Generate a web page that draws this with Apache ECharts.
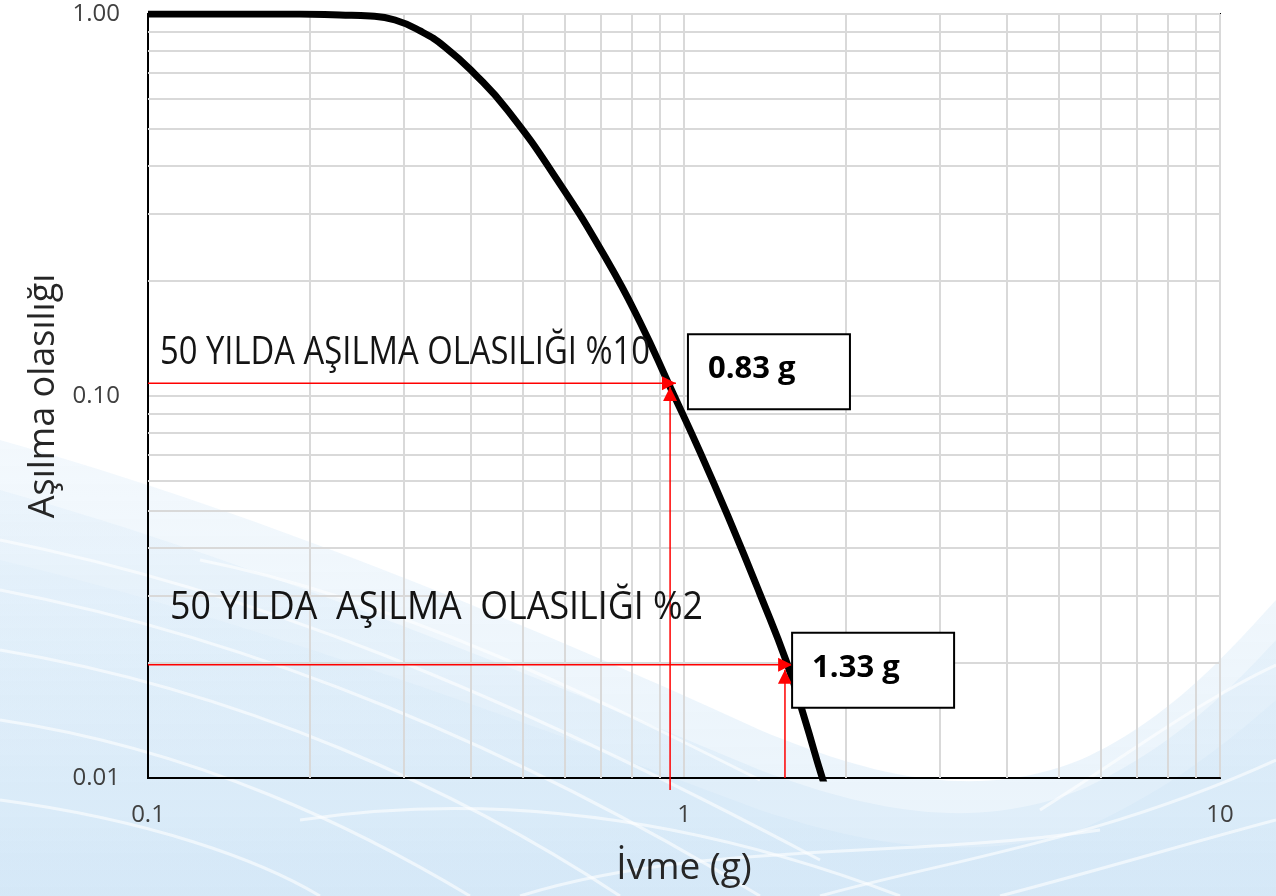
<!DOCTYPE html>
<html><head><meta charset="utf-8">
<script src="https://cdn.jsdelivr.net/npm/echarts@6/dist/echarts.min.js"></script>
<style>html,body{margin:0;padding:0;background:#fff}#c{width:1276px;height:896px}</style>
</head><body><div id="c"></div>
<script>
// ---- data ----
const xTickValues = [0.1, 1, 10];
const yTickValues = [0.01, 0.1, 1];
const xMinorGrid = [0.2,0.3,0.4,0.5,0.6,0.7,0.8,0.9,2,3,4,5,6,7,8,9];
const yMinorGrid = [0.02,0.03,0.04,0.05,0.06,0.07,0.08,0.09,0.2,0.3,0.4,0.5,0.6,0.7,0.8,0.9];
const hazardAccel = [0.1,0.192,0.228,0.26,0.289,0.322,0.358,0.407,0.468,0.580,0.718,0.828,0.942,1.071,1.218,1.386,1.556,1.682,1.809,1.873];
const hazardProb  = [1.0,1.0,0.994,0.988,0.9645,0.903,0.820,0.6965,0.561,0.368,0.227,0.156,0.1056,0.0714,0.0471,0.0303,0.0200,0.01418,0.01006,0.00876];
const refProbLine   = [0.108, 0.0198];   // horizontal red lines (probability)
const refAccelLine  = [0.942, 1.543];    // vertical red lines (acceleration)
const refHArrowX    = [0.966, 1.591];    // tip of horizontal arrows
const refVArrowP    = [0.1056, 0.0192];  // tip of vertical arrows
const refVLineStart = [0.0093, 0.01];
const refTitles = ['50 YILDA AŞILMA OLASILIĞI %10', '50 YILDA  AŞILMA  OLASILIĞI %2'];
const refValues = ['0.83 g', '1.33 g'];

const FONT = '"Open Sans", "Noto Sans", sans-serif';
const chart = echarts.init(document.getElementById('c'), null, {renderer:'canvas'});

const RIGHT = 'path://M0,0L10,5L0,10Z';
const UP = 'path://M5,0L10,10L0,10Z';

const series = [];
series.push({
  type:'line', data:[], z:1, silent:true, animation:false,
  markLine:{
    silent:true, symbol:'none', animation:false, label:{show:false},
    lineStyle:{color:'#d9d9d9', width:2, type:'solid'},
    data: xMinorGrid.map(v=>({xAxis:v})).concat(yMinorGrid.map(v=>({yAxis:v})))
  }
});
series.push({
  type:'line', z:5, animation:false, silent:true, smooth:0.5, clip:true,
  showSymbol:false, lineStyle:{color:'#000', width:7, cap:'butt'},
  data: hazardAccel.map((x,i)=>[x, hazardProb[i]])
});
for (let i=0;i<2;i++){
  series.push({
    type:'line', z:6, animation:false, silent:true, clip:false,
    lineStyle:{color:'#ff0000', width:1.5}, itemStyle:{color:'#ff0000'},
    showSymbol:true, symbolKeepAspect:true,
    data:[
      {value:[xTickValues[0], refProbLine[i]], symbol:'none'},
      {value:[refHArrowX[i], refProbLine[i]], symbol:RIGHT, symbolSize:[14,14], symbolOffset:[-7,0]}
    ]
  });
  series.push({
    type:'line', z:6, animation:false, silent:true, clip:false,
    lineStyle:{color:'#ff0000', width:1.5}, itemStyle:{color:'#ff0000'},
    showSymbol:true, symbolKeepAspect:true,
    data:[
      {value:[refAccelLine[i], refVLineStart[i]], symbol:'none'},
      {value:[refAccelLine[i], refVArrowP[i]], symbol:UP, symbolSize:[14,14], symbolOffset:[0,7]}
    ]
  });
}

const option = {
  backgroundColor:'transparent',
  animation:false,
  grid:{left:148, right:56, top:14, bottom:118, show:true, borderColor:'#000', borderWidth:2, backgroundColor:'transparent', containLabel:false},
  xAxis:{
    type:'log', logBase:10, min:xTickValues[0], max:xTickValues[2],
    name:'İvme (g)', nameLocation:'middle', nameGap:72,
    nameTextStyle:{fontFamily:FONT, fontSize:37, color:'#262626'},
    axisLine:{show:true, onZero:false, lineStyle:{color:'#000', width:2}},
    axisTick:{show:false},
    axisLabel:{fontFamily:FONT, fontSize:24, color:'#404040', margin:25, showMinLabel:true, showMaxLabel:true,
      formatter:v=> v<1 ? v.toFixed(1) : v.toFixed(0)},
    splitLine:{show:true, lineStyle:{color:'#d9d9d9', width:2}}
  },
  yAxis:{
    type:'log', logBase:10, min:yTickValues[0], max:yTickValues[2],
    name:'Aşılma olasılığı', nameLocation:'middle', nameGap:84,
    nameTextStyle:{fontFamily:FONT, fontSize:36, color:'#262626'},
    axisLine:{show:true, onZero:false, lineStyle:{color:'#000', width:2}},
    axisTick:{show:false},
    axisLabel:{fontFamily:FONT, fontSize:24, color:'#404040', margin:28, showMinLabel:true, showMaxLabel:true,
      formatter:v=> v.toFixed(2)},
    splitLine:{show:true, lineStyle:{color:'#d9d9d9', width:2}}
  },
  series
};
chart.setOption(option);

// ---- decorative background + annotations ----
const ctx = document.createElement('canvas').getContext('2d');
function fitScale(text, font, target){ ctx.font = font; return target / ctx.measureText(text).width; }
function bez(start, segs, n){
  const pts=[start.slice()]; let p0=start;
  segs.forEach(s=>{
    for(let k=1;k<=n;k++){
      const t=k/n, u=1-t;
      pts.push([
        u*u*u*p0[0]+3*u*u*t*s[0]+3*u*t*t*s[2]+t*t*t*s[4],
        u*u*u*p0[1]+3*u*u*t*s[1]+3*u*t*t*s[3]+t*t*t*s[5]
      ]);
    }
    p0=[s[4],s[5]];
  });
  return pts;
}

const graphics = [];
const bands = [
  [[0,440],[[250,510,520,620,760,730],[880,780,980,800,1080,760],[1170,720,1230,650,1276,600]]],
  [[0,490],[[250,560,520,670,760,770],[880,815,980,830,1080,790],[1170,750,1230,690,1276,640]]],
  [[0,560],[[250,620,520,720,760,810],[880,850,980,860,1080,830],[1170,790,1230,740,1276,700]]]
];
bands.forEach((b,i)=>{
  const pts = bez(b[0], b[1], 30).concat([[1276,896],[0,896]]);
  graphics.push({
    type:'polygon', id:'band'+i, z:-20, silent:true, shape:{points:pts},
    style:{fill:{type:'linear',x:0,y:0,x2:0,y2:1,colorStops:[{offset:0,color:'rgba(220,236,249,0.35)'},{offset:1,color:'rgba(205,228,246,0.45)'}]}}
  });
});
const streaks = [
  [0,540,250,590,500,690,820,860],
  [0,590,260,640,520,750,760,896],
  [0,650,240,690,460,790,620,896],
  [0,720,200,750,360,830,470,896],
  [0,800,150,820,260,860,320,896],
  [520,896,700,840,900,860,1100,830],
  [820,896,950,860,1100,840,1276,760],
  [1000,896,1100,870,1200,840,1276,820],
  [300,820,500,790,700,820,900,896],
  [1040,810,1120,760,1200,700,1276,665],
  [200,560,400,600,600,700,760,780]
];
streaks.forEach((s,i)=>graphics.push({
  type:'bezierCurve', id:'streak'+i, z:-19, silent:true,
  shape:{x1:s[0],y1:s[1],cpx1:s[2],cpy1:s[3],cpx2:s[4],cpy2:s[5],x2:s[6],y2:s[7]},
  style:{fill:null, stroke:'rgba(255,255,255,0.6)', lineWidth:3}
}));

const titleFont = '38px "Open Sans"';
const titlePos = [[160, 353], [170, 608]];
const titleWidth = [490, 533];
for (let i=0;i<2;i++){
  const s = fitScale(refTitles[i], titleFont, titleWidth[i]);
  graphics.push({
    type:'text', id:'title'+i, z:50, silent:true, x:titlePos[i][0], y:titlePos[i][1], scaleX:s,
    style:{text:refTitles[i], font:titleFont, fill:'#141414', textAlign:'left', textVerticalAlign:'middle'}
  });
  const tip = chart.convertToPixel({gridIndex:0}, [refHArrowX[i], refProbLine[i]]);
  const bx = i===0 ? tip[0]+12 : tip[0];
  const by = i===0 ? tip[1]-49 : tip[1]-32;
  graphics.push({
    type:'rect', id:'box'+i, z:50, silent:true,
    shape:{x:bx, y:by, width:162, height:75},
    style:{fill:'#fff', stroke:'#000', lineWidth:2}
  });
  graphics.push({
    type:'text', id:'val'+i, z:51, silent:true, x:bx+20, y:by+35,
    style:{text:refValues[i], font:'bold 31px "Open Sans"', fill:'#000', textAlign:'left', textVerticalAlign:'middle'}
  });
}
chart.setOption({graphic: graphics});
</script>
</body></html>
